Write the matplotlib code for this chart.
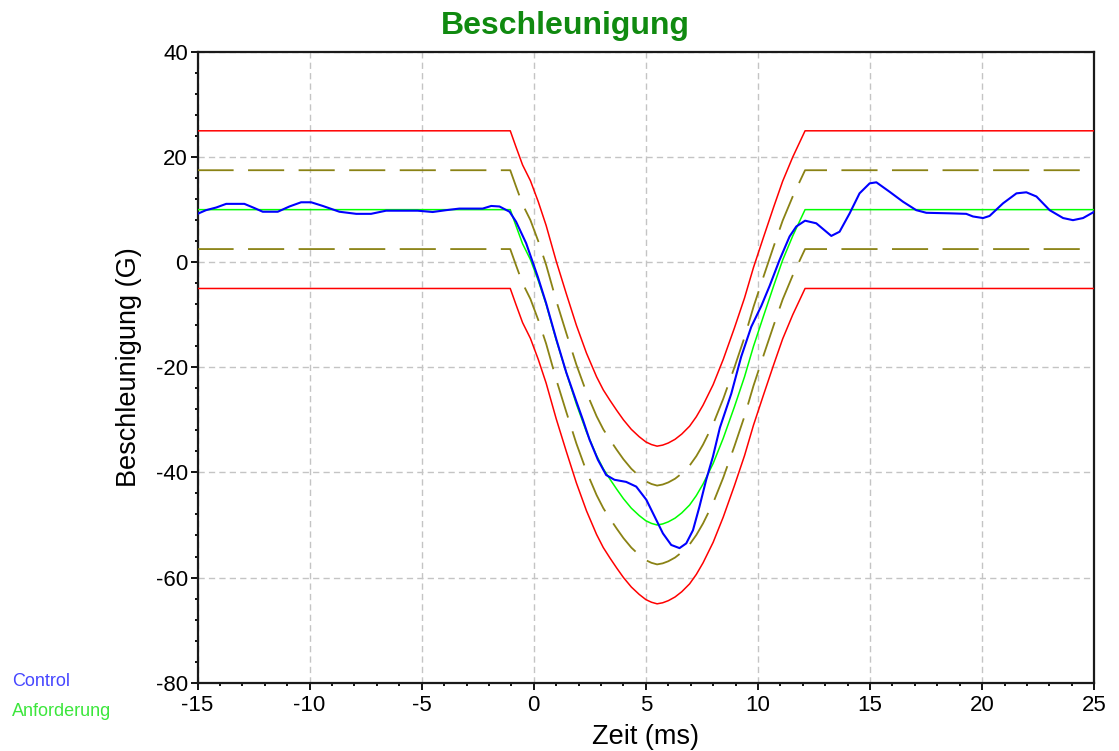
import numpy as np
import matplotlib
matplotlib.use("Agg")
import matplotlib.pyplot as plt
from matplotlib.ticker import MultipleLocator

# ---------------- data ----------------
# Requirement pulse ("Anforderung"), time in ms, acceleration in G
t_req = [-15, -1.05, -0.8, -0.5, -0.15, 0.2, 0.55, 1.0, 1.45, 1.9, 2.35, 2.8,
         3.1, 3.4, 3.7, 4.0, 4.35, 4.7, 5.0, 5.25, 5.5, 5.75, 6.0, 6.3, 6.6, 6.95,
         7.25, 7.55, 8.0, 8.45, 8.95, 9.4, 9.8,
         10.25, 10.7, 11.1, 11.55, 12.1, 25]
v_req = [10, 10, 7.0, 3.5, 0.5, -3.5, -8.0, -14.8, -21.0, -27.0, -32.3, -36.8,
         -39.3, -41.3, -43.2, -45.0, -46.8, -48.2, -49.2, -49.7, -50.0, -49.8, -49.4, -48.7, -47.7, -46.2,
         -44.4, -42.2, -38.3, -33.5, -27.5, -21.8, -16.0,
         -10.2, -4.5, 0.4, 5.0, 10, 10]

# Tolerance band half-widths around the requirement (G)
tol_outer = 15.0   # red limits
tol_inner = 7.5    # olive dashed limits

# Measured signal ("Control")
t_ctl = [-15, -14.62, -14.17, -13.72, -12.91, -12.46, -12.09, -11.42, -10.9, -10.38,
         -9.93, -9.41, -8.67, -7.92, -7.26, -6.59, -5.18, -4.51, -3.91, -3.32,
         -2.28, -1.90, -1.53, -1.08, -0.79, -0.34, 0.18, 0.55, 1.0, 1.45,
         1.89, 2.19, 2.49, 2.86, 3.23, 3.60, 4.12, 4.57, 5.02, 5.39,
         5.76, 6.13, 6.50, 6.80, 7.10, 7.39, 7.69, 7.99, 8.3, 8.81,
         9.25, 9.70, 10.15, 10.52, 10.96, 11.41, 11.71, 12.1, 12.6, 13.27,
         13.64, 14.09, 14.53, 14.98, 15.28, 15.87, 16.47, 17.06, 17.51, 18.55,
         19.29, 19.59, 20.04, 20.33, 20.93, 21.53, 21.97, 22.42, 23.01, 23.61,
         24.05, 24.50, 25.0]
v_ctl = [9.2, 9.9, 10.4, 11.1, 11.1, 10.3, 9.6, 9.6, 10.6, 11.4,
         11.4, 10.7, 9.6, 9.2, 9.2, 9.8, 9.8, 9.55, 9.9, 10.2,
         10.2, 10.7, 10.6, 9.6, 7.7, 3.6, -2.8, -7.8, -14.6, -21.0,
         -26.4, -30.0, -33.8, -37.6, -40.5, -41.4, -41.8, -42.7, -45.2, -48.4,
         -51.6, -53.8, -54.4, -53.5, -51.0, -46.5, -41.4, -37.0, -31.5, -25.0,
         -18.0, -12.3, -8.3, -4.5, 0.4, 4.9, 6.8, 7.9, 7.4, 5.0,
         5.8, 9.3, 13.1, 15.0, 15.2, 13.4, 11.5, 9.9, 9.4, 9.3,
         9.2, 8.7, 8.4, 8.8, 11.2, 13.1, 13.3, 12.5, 9.9, 8.4,
         8.0, 8.4, 9.6]

x_ticks = [-15, -10, -5, 0, 5, 10, 15, 20, 25]
y_ticks = [-80, -60, -40, -20, 0, 20, 40]

title_text = "Beschleunigung"
x_label = "Zeit (ms)"
y_label = "Beschleunigung (G)"
legend_entries = ["Control", "Anforderung"]

# ---------------- plotting ----------------
plt.rcParams['font.family'] = ['Liberation Sans', 'DejaVu Sans']
plt.rcParams['axes.unicode_minus'] = False

fig = plt.figure(figsize=(11.19, 7.51), dpi=100)
ax = fig.add_axes([0.1765, 0.0910, 0.8014, 0.8398])

treq = np.array(t_req)
vreq = np.array(v_req)

olive = '#8a8214'
ax.plot(treq, vreq + tol_outer, color='#ff0000', lw=1.1, zorder=3)
ax.plot(treq, vreq - tol_outer, color='#ff0000', lw=1.1, zorder=3)
ax.plot(treq, vreq + tol_inner, color=olive, lw=1.3, dashes=(20, 8), zorder=3)
ax.plot(treq, vreq - tol_inner, color=olive, lw=1.3, dashes=(20, 8), zorder=3)
ax.plot(treq, vreq, color='#00ff00', lw=1.1, zorder=4)
ax.plot(t_ctl, v_ctl, color='#0000ff', lw=1.5, zorder=5)

ax.set_xlim(-15, 25)
ax.set_ylim(-80, 40)
ax.set_xticks(x_ticks)
ax.set_yticks(y_ticks)
ax.xaxis.set_minor_locator(MultipleLocator(1))
ax.yaxis.set_minor_locator(MultipleLocator(4))
ax.tick_params(axis='both', which='major', length=5, width=1.3, labelsize=16,
               direction='out')
ax.tick_params(axis='x', which='major', pad=4)
ax.tick_params(axis='y', which='major', pad=2)
ax.tick_params(axis='both', which='minor', length=2.5, width=1.3, direction='out')

ax.grid(True, which='major', color='#c4c4c4', lw=1.0, linestyle=(0, (4.5, 3)))
ax.set_axisbelow(True)
for s in ax.spines.values():
    s.set_linewidth(1.6)
    s.set_color('#1a1a1a')

ax.set_xlabel(x_label, fontsize=19.5, labelpad=6)
ax.set_ylabel(y_label, fontsize=19.5, labelpad=10)
fig.text(0.505, 1 - 26 / 751, title_text, fontsize=23, fontweight='bold',
         color='#108a10', ha='center', va='center')

fig.text(12 / 1119, 1 - 682 / 751, legend_entries[0], color='#4646ff',
         fontsize=13, va='center', ha='left')
fig.text(12 / 1119, 1 - 712 / 751, legend_entries[1], color='#3ce63c',
         fontsize=13, va='center', ha='left')

fig.savefig("out.png", dpi=100)
